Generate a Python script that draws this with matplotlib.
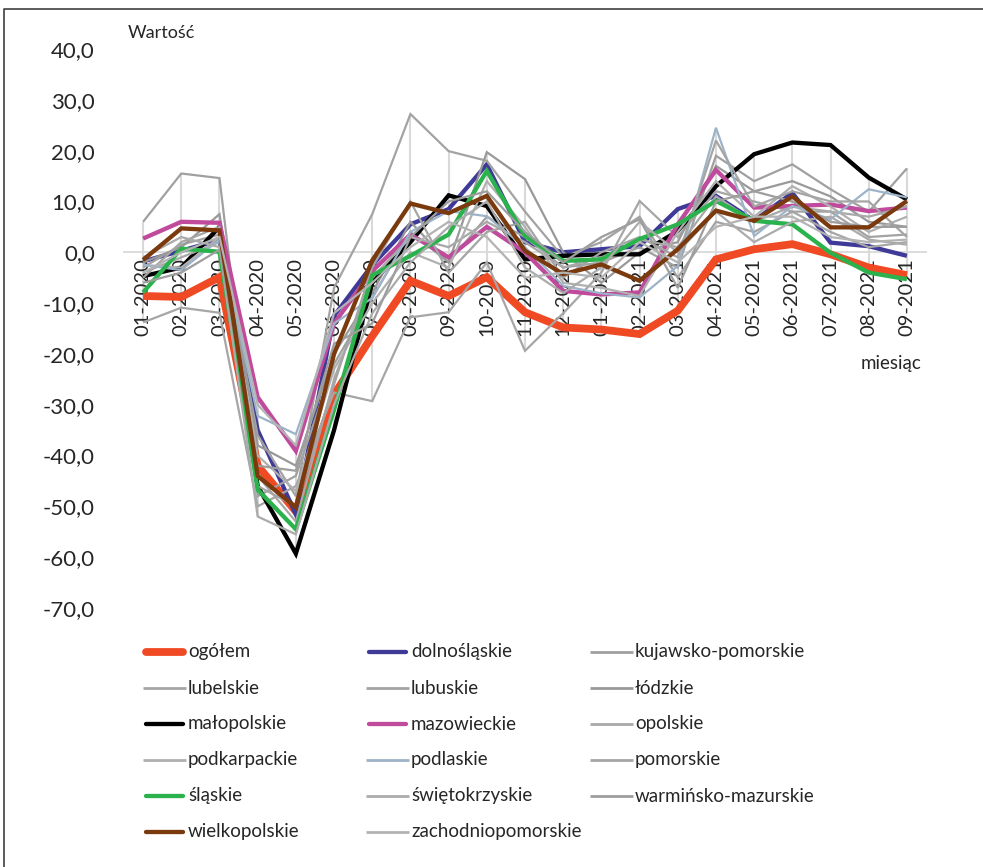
import matplotlib
matplotlib.use("Agg")
import matplotlib.pyplot as plt
from matplotlib.lines import Line2D
import numpy as np

plt.rcParams['font.family'] = ['Lato', 'DejaVu Sans']

months = ["01-2020", "02-2020", "03-2020", "04-2020", "05-2020", "06-2020", "07-2020",
          "08-2020", "09-2020", "10-2020", "11-2020", "12-2020", "01-2021", "02-2021",
          "03-2021", "04-2021", "05-2021", "06-2021", "07-2021", "08-2021", "09-2021"]

ogolem = [-8.6, -8.8, -4.9, -42.0, -51.0, -28.0, -16.5, -5.6, -8.6, -4.9, -11.8, -14.8,
          -15.2, -16.1, -11.5, -1.4, 0.6, 1.6, -0.4, -3.0, -4.5]
dolnoslaskie = [-1.8, 0.3, 2.4, -35.0, -51.6, -12.5, -2.5, 5.5, 8.5, 17.3, 2.0, 0.0,
                0.6, 1.2, 8.5, 11.1, 6.2, 11.7, 1.9, 1.2, -0.7]
kujawsko_pomorskie = [6.0, 15.5, 14.6, -48.0, -44.0, -22.0, -9.0, 4.0, -2.0, 7.0, 3.0, -3.0,
                      -2.0, 1.0, -3.0, 19.0, 14.0, 17.3, 12.4, 8.0, 16.5]
lubelskie = [-13.8, -10.9, -11.9, -50.0, -46.0, -27.6, -29.3, -12.8, -11.8, -2.0, -19.4, -12.0,
             -4.0, 10.1, 3.0, 12.0, 10.0, 8.0, 4.0, 1.0, 2.0]
lubuskie = [-3.0, 1.5, 3.5, -36.0, -48.0, -7.0, 7.5, 27.2, 19.9, 18.0, 8.0, -1.0,
            2.0, 7.0, -5.0, 6.0, 4.0, 8.0, 8.0, 3.0, 3.5]
lodzkie = [-2.0, 1.0, 7.5, -38.0, -42.0, -20.0, -8.0, 6.0, -2.0, 19.7, 14.4, 0.0,
           -6.0, 0.0, 2.0, 17.0, 12.0, 14.0, 11.0, 6.0, 5.0]
malopolskie = [-4.7, -3.0, 5.0, -46.0, -59.3, -35.0, -6.0, 2.0, 11.2, 9.1, -1.4, -0.7,
               -0.4, -0.4, 4.2, 13.0, 19.3, 21.6, 21.1, 14.7, 10.4]
mazowieckie = [2.7, 6.0, 5.8, -28.5, -39.1, -14.0, -3.7, 3.5, -1.0, 5.0, 0.0, -7.6,
               -8.3, -7.9, 5.5, 16.2, 8.8, 9.1, 9.4, 8.1, 8.8]
opolskie = [-4.0, -1.0, 2.0, -44.0, -53.0, -25.0, -5.0, 3.0, 1.0, 6.0, 2.0, -3.0,
            -1.0, 2.5, 1.0, 11.0, 6.0, 9.0, 8.0, 7.0, 9.0]
podkarpackie = [-2.5, -3.0, 3.0, -40.0, -47.0, -23.0, -10.0, 0.0, -3.0, 14.0, 5.0, -6.0,
                -7.0, -8.6, 4.0, 14.0, 7.0, 13.0, 9.0, 4.0, 7.0]
podlaskie = [-2.5, -3.5, 2.5, -32.2, -35.8, -14.0, -9.0, 4.0, 8.1, 7.1, 1.0, -6.6,
             -8.1, -8.9, -2.7, 24.5, 3.2, 9.1, 6.5, 12.4, 10.8]
pomorskie = [-5.0, 2.0, 5.0, -46.0, -50.0, -26.0, -3.0, 10.0, -4.0, 4.0, 6.0, -5.0,
             0.0, 3.0, -1.0, 22.0, 9.0, 12.0, 10.0, 10.0, 3.0]
slaskie = [-7.9, 0.7, 0.1, -46.7, -54.5, -31.0, -4.5, -0.7, 3.5, 16.0, 3.2, -1.7,
           -1.4, 2.6, 5.5, 10.1, 6.2, 5.5, -0.1, -4.0, -5.3]
swietokrzyskie = [-1.0, 3.0, 1.0, -52.0, -55.5, -30.0, -12.0, -2.0, 5.0, 10.0, -3.0, -8.0,
                  -3.0, 6.0, 0.0, 8.0, 2.0, 6.0, 7.0, 2.5, 1.5]
warminsko_mazurskie = [-6.0, -4.0, 0.5, -42.0, -43.0, -18.0, -14.0, 3.0, 10.0, 12.0, 4.0, -2.0,
                       3.0, 6.5, -7.0, 10.0, 12.0, 10.0, 6.0, 5.0, 5.0]
wielkopolskie = [-1.5, 4.7, 4.3, -44.0, -50.2, -20.0, -1.6, 9.6, 7.7, 11.1, 0.3, -4.3,
                 -2.4, -5.6, 0.6, 8.2, 6.2, 11.0, 4.9, 4.9, 10.1]
zachodniopomorskie = [-4.0, 0.0, 3.0, -30.0, -38.0, -12.0, -6.0, 1.0, 6.0, 3.0, -5.0, -4.0,
                      -5.0, 2.0, -2.0, 5.0, 7.0, 7.0, 3.0, 2.0, 2.5]

# (label, values, colour, line width) in drawing order
series = [
    ("ogółem", ogolem, "#f04a24", 5.6),
    ("dolnośląskie", dolnoslaskie, "#3f3a98", 3.1),
    ("kujawsko-pomorskie", kujawsko_pomorskie, "#a0a0a0", 1.6),
    ("lubelskie", lubelskie, "#a6a6a6", 1.6),
    ("lubuskie", lubuskie, "#a3a3a3", 1.6),
    ("łódzkie", lodzkie, "#999999", 1.6),
    ("małopolskie", malopolskie, "#000000", 3.1),
    ("mazowieckie", mazowieckie, "#c04a9c", 3.1),
    ("opolskie", opolskie, "#a8a8a8", 1.6),
    ("podkarpackie", podkarpackie, "#b0b0b0", 1.6),
    ("podlaskie", podlaskie, "#9db3c8", 1.6),
    ("pomorskie", pomorskie, "#a5a5a5", 1.6),
    ("śląskie", slaskie, "#2bb24c", 3.1),
    ("świętokrzyskie", swietokrzyskie, "#ababab", 1.6),
    ("warmińsko-mazurskie", warminsko_mazurskie, "#9e9e9e", 1.6),
    ("wielkopolskie", wielkopolskie, "#7a3a0e", 3.1),
    ("zachodniopomorskie", zachodniopomorskie, "#b3b3b3", 1.6),
]

W, H = 983, 867
fig = plt.figure(figsize=(W / 100, H / 100), dpi=100)
ax = fig.add_axes([124 / W, 1 - 608 / H, 802 / W, (608 - 49) / H])

x = np.arange(len(months))
ax.set_xlim(-0.5, len(months) - 0.5)
ax.set_ylim(-70, 40)

# high-low lines spanning all series at each month
allvals = np.array([s[1] for s in series])
ax.vlines(x, allvals.min(axis=0), allvals.max(axis=0), color="#d9d9d9", lw=1.5, zorder=1)

for i, (label, vals, color, lw) in enumerate(series):
    ax.plot(x, vals, color=color, lw=lw, solid_joinstyle="miter",
            solid_capstyle="butt", zorder=2 + i * 0.01, label=label)

for side in ("top", "right", "left"):
    ax.spines[side].set_visible(False)
ax.spines["bottom"].set_position(("data", 0))
ax.spines["bottom"].set_color("#d9d9d9")
ax.spines["bottom"].set_linewidth(1.3)
ax.spines["bottom"].set_zorder(1.5)

ax.set_xticks(x)
ax.set_xticklabels(months, rotation=90, fontsize=14.5, color="#262626")
ax.set_yticks(np.arange(-70, 41, 10))
ax.set_yticklabels([f"{v:.1f}".replace(".", ",") for v in np.arange(-70, 41, 10)],
                   fontsize=16, color="#262626")
ax.tick_params(axis="both", length=0)
ax.tick_params(axis="x", pad=4)
ax.tick_params(axis="y", pad=21)
ax.patch.set_alpha(0)

fig.text(128 / W, 1 - 33 / H, "Wartość", fontsize=13, color="#262626", va="center")
fig.text(921 / W, 1 - 363 / H, "miesiąc", fontsize=13.5, color="#262626", va="center", ha="right")

# legend laid out row by row, three columns
cols_x = [143, 366, 590]
rows_y = [652, 688, 724, 760, 796, 832]
for k, (label, vals, color, lw) in enumerate(series):
    r, c = divmod(k, 3)
    x0 = cols_x[c]
    y0 = 1 - rows_y[r] / H
    thick = lw > 2
    fig.add_artist(Line2D([(x0 + (3 if thick else 0)) / W, (x0 + (40 if thick else 43)) / W],
                          [y0, y0], color=color, lw=lw if thick else 2.0,
                          solid_capstyle="round" if thick else "butt"))
    fig.text((x0 + 45) / W, y0, label, fontsize=13.5, color="#262626", va="center")

# outer frame (top and left edges)
fig.add_artist(Line2D([4 / W, 4 / W, 1.0], [0.0, 1 - 9 / H, 1 - 9 / H],
                      color="#404040", lw=1.2))

fig.savefig("out.png", dpi=100)
